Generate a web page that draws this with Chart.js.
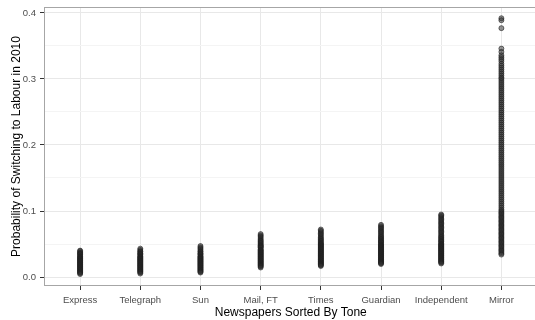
<!DOCTYPE html>
<html>
<head>
<meta charset="utf-8">
<script src="https://cdn.jsdelivr.net/npm/chart.js@4/dist/chart.umd.min.js"></script>
<style>
html,body{margin:0;padding:0;background:#fff;overflow:hidden;}
#wrap{position:relative;width:541px;height:320px;}
</style>
</head>
<body>
<div id="wrap"><canvas id="c"></canvas></div>
<script>
const categories = ["Express","Telegraph","Sun","Mail, FT","Times","Guardian","Independent","Mirror"];
const yTicks = [0.0, 0.1, 0.2, 0.3, 0.4];

const express = [0.040,0.039,0.037,0.036,0.035,0.034,0.032,0.031,0.030,0.029,0.028,0.027,0.026,0.025,0.024,0.023,0.022,0.021,0.020,0.019,0.018,0.017,0.016,0.015,0.014,0.013,0.012,0.011,0.010,0.009,0.008,0.007,0.006,0.0045];
const telegraph = [0.043,0.041,0.039,0.038,0.036,0.035,0.034,0.032,0.031,0.030,0.029,0.028,0.027,0.026,0.025,0.024,0.023,0.022,0.021,0.020,0.019,0.018,0.017,0.016,0.015,0.014,0.013,0.012,0.011,0.010,0.009,0.008,0.007,0.0053];
const sun = [0.047,0.045,0.043,0.041,0.039,0.038,0.036,0.035,0.034,0.032,0.031,0.030,0.029,0.028,0.027,0.026,0.025,0.024,0.023,0.022,0.021,0.020,0.019,0.018,0.017,0.016,0.015,0.014,0.013,0.012,0.011,0.010,0.009,0.008,0.0068];
const mailFT = [0.065,0.063,0.061,0.059,0.057,0.055,0.054,0.052,0.051,0.049,0.048,0.047,0.046,0.045,0.044,0.042,0.041,0.040,0.039,0.038,0.037,0.036,0.035,0.034,0.033,0.032,0.031,0.030,0.029,0.028,0.027,0.026,0.025,0.024,0.023,0.022,0.021,0.020,0.019,0.018,0.017,0.016,0.0144];
const times = [0.072,0.070,0.068,0.066,0.064,0.062,0.060,0.058,0.057,0.055,0.054,0.052,0.051,0.050,0.049,0.048,0.047,0.046,0.045,0.044,0.043,0.042,0.041,0.040,0.039,0.038,0.037,0.036,0.035,0.034,0.033,0.032,0.031,0.030,0.029,0.028,0.027,0.026,0.025,0.024,0.023,0.022,0.021,0.020,0.019,0.018,0.0167];
const guardian = [0.079,0.077,0.075,0.073,0.071,0.069,0.067,0.065,0.063,0.061,0.060,0.058,0.057,0.055,0.054,0.053,0.052,0.050,0.049,0.048,0.047,0.046,0.045,0.044,0.043,0.042,0.041,0.040,0.039,0.038,0.037,0.036,0.035,0.034,0.033,0.032,0.031,0.030,0.029,0.028,0.027,0.026,0.025,0.024,0.023,0.022,0.021,0.0197];
const independent = [0.0947,0.093,0.091,0.089,0.087,0.085,0.083,0.081,0.079,0.077,0.075,0.073,0.071,0.069,0.067,0.065,0.063,0.061,0.060,0.058,0.057,0.055,0.054,0.053,0.051,0.050,0.049,0.048,0.047,0.046,0.045,0.044,0.043,0.042,0.041,0.040,0.039,0.038,0.037,0.036,0.035,0.034,0.033,0.032,0.031,0.030,0.029,0.028,0.027,0.026,0.025,0.024,0.023,0.022,0.0205];
const mirror = [0.392,0.389,0.377,0.346,0.341,0.336,0.333,0.330,0.327,0.323,0.320,0.317,0.314,0.311,0.308,0.305,0.302,0.300,0.297,0.294,0.291,0.288,0.285,0.282,0.279,0.276,0.273,0.270,0.267,0.264,0.261,0.258,0.255,0.252,0.249,0.246,0.243,0.240,0.237,0.234,0.231,0.228,0.225,0.222,0.219,0.216,0.213,0.210,0.207,0.204,0.201,0.198,0.195,0.192,0.189,0.186,0.183,0.180,0.177,0.174,0.171,0.168,0.165,0.162,0.159,0.156,0.153,0.150,0.147,0.144,0.141,0.138,0.135,0.132,0.129,0.126,0.123,0.120,0.117,0.114,0.111,0.108,0.105,0.102,0.100,0.098,0.096,0.094,0.092,0.090,0.088,0.086,0.084,0.082,0.080,0.078,0.076,0.074,0.072,0.070,0.068,0.066,0.064,0.062,0.060,0.058,0.056,0.054,0.052,0.050,0.048,0.046,0.044,0.042,0.040,0.038,0.036,0.034];

const seriesValues = [express, telegraph, sun, mailFT, times, guardian, independent, mirror];

const points = [];
seriesValues.forEach((vals, i) => vals.forEach(v => points.push({x: i + 1, y: v})));

const panelBorder = {
  id: 'panelBorder',
  afterDraw(chart) {
    const a = chart.chartArea, ctx = chart.ctx;
    ctx.save();
    ctx.strokeStyle = '#a6a6a6';
    ctx.lineWidth = 1;
    ctx.strokeRect(a.left + 0.5, a.top + 0.5, a.right - a.left - 1, a.bottom - a.top - 1);
    ctx.restore();
  }
};

const FONT = "'Liberation Sans', Arial, Helvetica, sans-serif";

new Chart(document.getElementById('c'), {
  type: 'scatter',
  data: {
    datasets: [{
      data: points,
      pointRadius: 2.5,
      pointBorderWidth: 1,
      pointBackgroundColor: 'rgba(45,45,45,0.5)',
      pointBorderColor: 'rgba(30,30,30,0.6)',
      pointHoverRadius: 2.5
    }]
  },
  options: {
    responsive: true,
    maintainAspectRatio: false,
    animation: false,
    layout: {padding: {left: 0, right: 0, top: 7, bottom: 0}},
    plugins: {legend: {display: false}, tooltip: {enabled: false}},
    scales: {
      x: {
        type: 'linear',
        min: 0.4,
        max: 8.6,
        afterBuildTicks: s => { s.ticks = categories.map((c, i) => ({value: i + 1})); },
        afterFit: s => { s.height = 34; s.paddingLeft = 0; s.paddingRight = 0; },
        ticks: {
          autoSkip: false,
          maxRotation: 0,
          padding: 5,
          color: '#4d4d4d',
          font: {family: FONT, size: 9.5},
          callback: v => categories[Math.round(v) - 1]
        },
        grid: {color: '#e8e8e8', lineWidth: 1, tickLength: 4, tickColor: '#333'},
        border: {display: false},
        title: {display: true, text: 'Newspapers Sorted By Tone', color: '#000', font: {family: FONT, size: 12}, padding: {top: 0, bottom: 0}}
      },
      y: {
        min: -0.0136,
        max: 0.409,
        afterBuildTicks: s => {
          const t = [];
          for (let k = 0; k <= 8; k++) t.push({value: k * 0.05});
          s.ticks = t;
        },
        afterFit: s => { s.width = 44; s.paddingTop = 0; s.paddingBottom = 0; },
        ticks: {
          padding: 4,
          color: '#4d4d4d',
          font: {family: FONT, size: 9.5},
          callback: v => {
            const r = Math.round(v * 20);
            return r % 2 === 0 ? (r / 20).toFixed(1) : '';
          }
        },
        grid: {
          color: ctx => (Math.round(ctx.tick.value * 20) % 2 === 0 ? '#e8e8e8' : '#f4f4f4'),
          tickColor: ctx => (Math.round(ctx.tick.value * 20) % 2 === 0 ? '#333' : 'rgba(0,0,0,0)'),
          tickLength: 4,
          lineWidth: 1
        },
        border: {display: false},
        title: {display: true, text: 'Probability of Switching to Labour in 2010', color: '#000', font: {family: FONT, size: 12}, padding: {top: 9, bottom: 0}}
      }
    }
  },
  plugins: [panelBorder]
});
</script>
</body>
</html>
